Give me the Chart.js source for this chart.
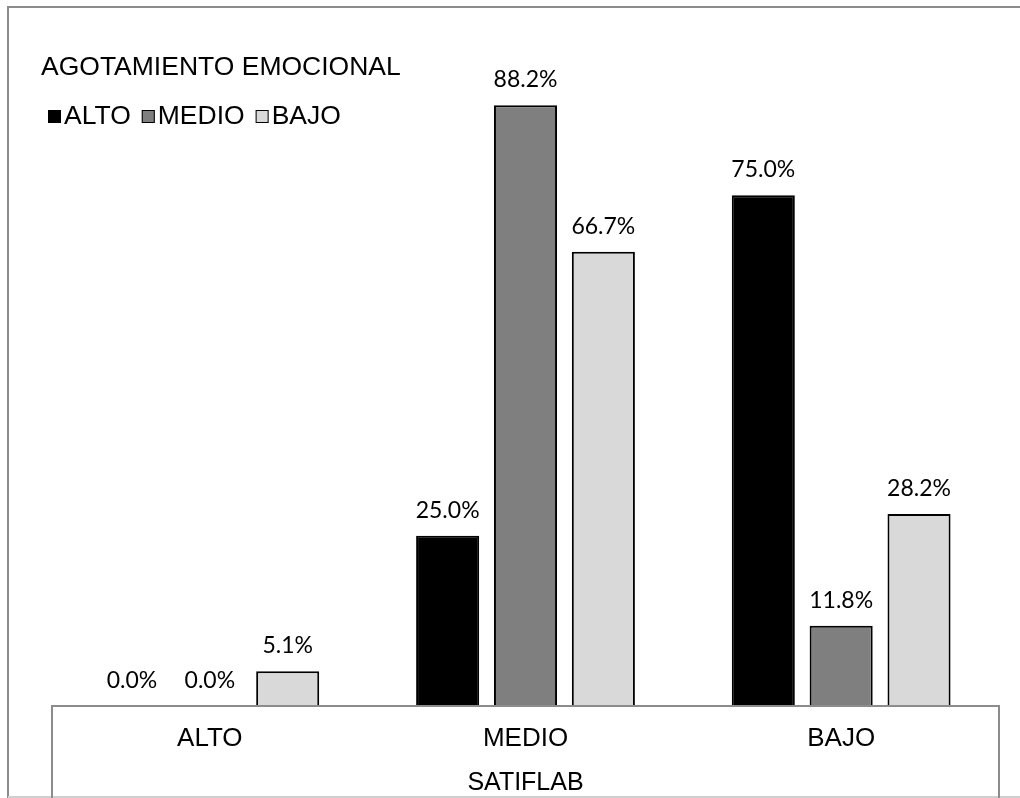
<!DOCTYPE html>
<html>
<head>
<meta charset="utf-8">
<script src="https://cdn.jsdelivr.net/npm/chart.js@4"></script>
<style>
  body{margin:0;background:#fff}
  #chart{display:block}
</style>
</head>
<body>
<canvas id="chart" width="1020" height="798"></canvas>
<script>
const categories=["ALTO","MEDIO","BAJO"];
const seriesNames=["ALTO","MEDIO","BAJO"];
const alto=[0.0,25.0,75.0];
const medio=[0.0,88.2,11.8];
const bajo=[5.1,66.7,28.2];
const legendTitle="AGOTAMIENTO EMOCIONAL";
const axisTitle="SATIFLAB";
const colors=["#000000","#7f7f7f","#d9d9d9"];

const ctx=document.getElementById("chart");

/* white page, outer frame, category box */
const framePlugin={
  id:"frame",
  beforeDraw(c){
    const g=c.ctx;
    g.save();
    g.fillStyle="#fff";
    g.fillRect(0,0,c.width,c.height);
    g.strokeStyle="#8c8c8c";
    g.lineWidth=2;
    g.beginPath();
    g.moveTo(8,798);g.lineTo(8,7);g.lineTo(1030,7);
    g.stroke();
    g.strokeStyle="#d0d0d0";
    g.beginPath();g.moveTo(8,797);g.lineTo(1020,797);g.stroke();
    g.restore();
  },
  afterDatasetsDraw(c){
    const g=c.ctx, a=c.chartArea;
    g.save();
    g.strokeStyle="#8c8c8c";
    g.lineWidth=2;
    g.beginPath();
    g.moveTo(a.left,800);g.lineTo(a.left,a.bottom);g.lineTo(a.right,a.bottom);g.lineTo(a.right,800);
    g.stroke();
    g.restore();
  }
};

/* value labels above bars */
const labelPlugin={
  id:"valueLabels",
  afterDatasetsDraw(c){
    const g=c.ctx;
    g.save();
    g.font="23px Lato";
    g.fillStyle="#000";
    g.textAlign="center";
    g.textBaseline="alphabetic";
    c.data.datasets.forEach((ds,i)=>{
      c.getDatasetMeta(i).data.forEach((bar,j)=>{
        g.fillText(ds.data[j].toFixed(1)+"%",bar.x,bar.y-18);
      });
    });
    g.restore();
  }
};

/* legend with title, top left inside plot */
const legendPlugin={
  id:"legendBox",
  afterDraw(c){
    const g=c.ctx;
    g.save();
    g.fillStyle="#000";
    g.textBaseline="middle";
    g.font="26.5px 'Liberation Sans'";
    g.fillText(legendTitle,41,68);
    let x=48;
    const y=117;
    c.data.datasets.forEach((ds,i)=>{
      g.fillStyle=ds.backgroundColor;
      g.fillRect(x,y-7,13,13);
      g.strokeStyle="#000";
      g.lineWidth=1;
      g.strokeRect(x+0.5,y-6.5,12,12);
      g.fillStyle="#000";
      g.fillText(ds.label,x+16,y);
      x+=16+g.measureText(ds.label).width+11;
    });
    g.restore();
  }
};

new Chart(ctx,{
  type:"bar",
  data:{
    labels:categories,
    datasets:[alto,medio,bajo].map((d,i)=>({
      label:seriesNames[i],
      data:d,
      backgroundColor:colors[i],
      borderColor:"#000",
      borderWidth:2,
      categoryPercentage:0.74,
      barPercentage:0.81
    }))
  },
  options:{
    responsive:false,
    animation:false,
    devicePixelRatio:1,
    layout:{padding:{left:52,right:21,top:25,bottom:0}},
    plugins:{legend:{display:false},tooltip:{enabled:false}},
    scales:{
      x:{
        grid:{display:false,drawTicks:false},
        border:{display:false},
        ticks:{color:"#000",font:{family:"'Liberation Sans'",size:26},padding:17},
        title:{display:true,text:axisTitle,color:"#000",font:{family:"'Liberation Sans'",size:25,lineHeight:1},padding:{top:0,bottom:2}},
        afterFit(s){s.height=92;}
      },
      y:{display:false,min:0,max:100}
    }
  },
  plugins:[framePlugin,labelPlugin,legendPlugin]
});
</script>
</body>
</html>
